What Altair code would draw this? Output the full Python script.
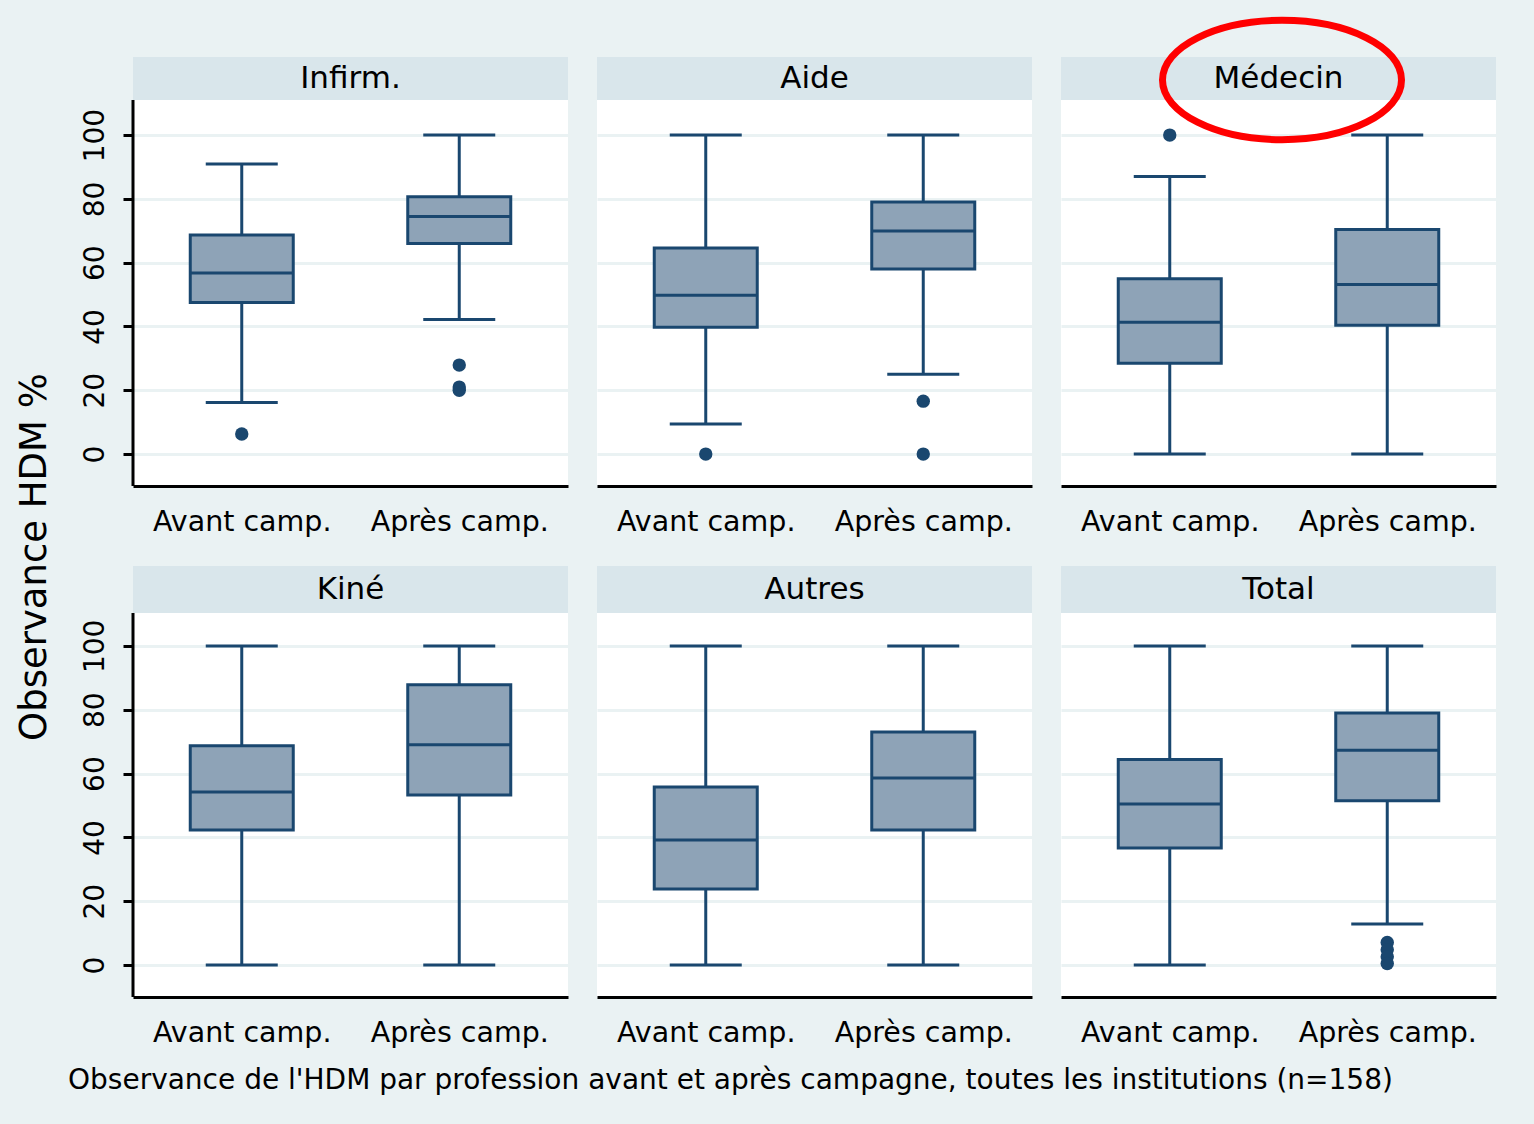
import altair as alt
import pandas as pd

groups = ["Infirm.", "Aide", "Médecin", "Kiné", "Autres", "Total"]
periods = ["Avant camp.", "Après camp."]
y_ticks = [0, 20, 40, 60, 80, 100]

# Box-plot summaries: one (avant, après) pair per group, in group order
whisker_low = [16.2, 42.2, 9.4, 25.0, 0.0, 0.0, 0.0, 0.0, 0.0, 0.0, 0.0, 12.9]
quartile_1 = [47.5, 66.0, 39.8, 58.0, 28.5, 40.4, 42.3, 53.3, 23.8, 42.3, 36.7, 51.5]
median = [56.8, 74.5, 49.8, 69.9, 41.3, 53.2, 54.2, 69.0, 39.2, 58.6, 50.5, 67.3]
quartile_3 = [68.7, 80.7, 64.6, 79.0, 55.0, 70.4, 68.7, 87.8, 55.8, 73.0, 64.4, 79.0]
whisker_high = [90.9, 100, 100, 100, 87.0, 100, 100, 100, 100, 100, 100, 100]

# Points beyond the whiskers
outlier_group = ["Infirm.", "Infirm.", "Infirm.", "Infirm.", "Aide", "Aide", "Aide",
                 "Médecin", "Total", "Total", "Total", "Total"]
outlier_period = ["Avant camp.", "Après camp.", "Après camp.", "Après camp.",
                  "Avant camp.", "Après camp.", "Après camp.", "Avant camp.",
                  "Après camp.", "Après camp.", "Après camp.", "Après camp."]
outlier_value = [6.3, 27.9, 21.0, 20.0, 0.0, 16.6, 0.0, 100.0, 7.1, 4.8, 2.6, 0.5]

caption = ("Observance de l'HDM par profession avant et après campagne, "
           "toutes les institutions (n=158)")
y_title = "Observance HDM %"

FONT = "DejaVu Sans"
BG = "#EAF2F3"
STRIP = "#D9E6EB"
NAVY = "#1A476F"
BOX = "#8EA3B7"
GRID = "#EAF2F3"

rows = []
for i, g in enumerate(groups):
    for j, p in enumerate(periods):
        k = 2 * i + j
        rows.append(dict(group=g, period=p, lo=whisker_low[k], q1=quartile_1[k],
                         med=median[k], q3=quartile_3[k], hi=whisker_high[k]))
box_df = pd.DataFrame(rows)
out_df = pd.DataFrame(dict(group=outlier_group, period=outlier_period, value=outlier_value))

PANEL_W = 435
PX_PER_UNIT = 3.19
# per row: bottom of y range, top of plotting area, header-strip and plot heights (px)
ROWS = [
    dict(ymin=-10.0, yplot=111.0, strip=43, plot=386),
    dict(ymin=-10.0, yplot=110.3, strip=47, plot=384),
]

# ellipse drawn around the "Médecin" header
ELLIPSE = ("M -1 0 C -1 -0.276 -0.552 -0.5 0 -0.5 "
           "C 0.552 -0.5 1 -0.276 1 0 C 1 0.276 0.552 0.5 0 0.5 "
           "C -0.552 0.5 -1 0.276 -1 0 Z")


def panel(g, col, r):
    geo = ROWS[r]
    ytop = geo["yplot"] + geo["strip"] / PX_PER_UNIT
    bd = box_df[box_df.group == g]
    od = out_df[out_df.group == g]

    x = alt.X("period:N",
              scale=alt.Scale(type="point", domain=periods, padding=0.5),
              axis=alt.Axis(title=None, labelAngle=0, labelFont=FONT, labelFontSize=28.5,
                            labelColor="black", labelPadding=21, ticks=False, tickSize=0,
                            grid=False, domain=True, domainColor="black", domainWidth=3))
    ysc = alt.Scale(domain=[geo["ymin"], ytop], nice=False, zero=False)
    if col == 0:
        yax = alt.Axis(title=None, values=y_ticks, labelAngle=270, labelAlign="center",
                       labelBaseline="bottom", labelFont=FONT, labelFontSize=28,
                       labelColor="black", labelPadding=14, tickSize=10, tickWidth=3,
                       tickColor="black", domain=False,
                       grid=True, gridColor=GRID, gridWidth=3)
    else:
        yax = alt.Axis(title=None, values=y_ticks, labels=False, ticks=False,
                       domain=False, grid=True, gridColor=GRID, gridWidth=3)

    def Y(field):
        return alt.Y(field, scale=ysc, axis=yax)

    one = alt.Chart(pd.DataFrame({"label": [g]}))
    header = one.mark_rect(fill=STRIP, opacity=1).encode(
        x=alt.value(0), x2=alt.value(PANEL_W),
        y=alt.Y(datum=geo["yplot"], scale=ysc, axis=yax), y2=alt.datum(ytop))
    header_text = one.mark_text(font=FONT, fontSize=31, color="black").encode(
        text="label:N", x=alt.value(PANEL_W / 2),
        y=alt.Y(datum=(geo["yplot"] + ytop) / 2, scale=ysc, axis=yax))

    base = alt.Chart(bd)
    whisk = base.mark_rule(color=NAVY, strokeWidth=3).encode(x=x, y=Y("lo:Q"), y2="hi:Q")
    cap_lo = base.mark_tick(color=NAVY, size=72, thickness=3, opacity=1,
                            orient="horizontal").encode(x=x, y=Y("lo:Q"))
    cap_hi = base.mark_tick(color=NAVY, size=72, thickness=3, opacity=1,
                            orient="horizontal").encode(x=x, y=Y("hi:Q"))
    box = base.mark_bar(size=103, fill=BOX, stroke=NAVY, strokeWidth=3,
                        opacity=1).encode(x=x, y=Y("q1:Q"), y2="q3:Q")
    med = base.mark_tick(color=NAVY, size=103, thickness=3, opacity=1,
                         orient="horizontal").encode(x=x, y=Y("med:Q"))
    layers = [header, header_text, whisk, cap_lo, cap_hi, box, med]
    if len(od):
        pts = alt.Chart(od).mark_circle(color=NAVY, size=180, opacity=1).encode(
            x=x, y=Y("value:Q"))
        layers.append(pts)
    if col == 0:
        left_line = one.mark_rule(color="black", strokeWidth=3).encode(
            x=alt.value(0), y=alt.Y(datum=geo["ymin"], scale=ysc, axis=yax),
            y2=alt.datum(geo["yplot"]))
        layers.append(left_line)
    if g == "Médecin":
        ring = one.mark_point(
            shape=ELLIPSE, size=57121, filled=False, stroke="#FF0000",
            strokeWidth=7, opacity=1).encode(x=alt.value(221), y=alt.value(23))
        layers.append(ring)

    return alt.layer(*layers).properties(
        width=PANEL_W, height=geo["strip"] + geo["plot"],
        view=alt.ViewBackground(fill="white", strokeWidth=0))


row1 = alt.hconcat(*[panel(g, c, 0) for c, g in enumerate(groups[:3])],
                   spacing=29, bounds="flush")
row2 = alt.hconcat(*[panel(g, c, 1) for c, g in enumerate(groups[3:])],
                   spacing=29, bounds="flush")
grid = alt.vconcat(row1, row2, spacing=30)

title_col = alt.Chart(pd.DataFrame({"t": [y_title]})).mark_text(
    font=FONT, fontSize=37, color="black", angle=270, baseline="middle").encode(
    text="t:N", x=alt.value(35), y=alt.value(500)).properties(
    width=70, height=900, view=alt.ViewBackground(fill=BG, strokeWidth=0))

note = alt.Chart(pd.DataFrame({"t": [caption]})).mark_text(
    font=FONT, fontSize=28, color="black", align="left", baseline="middle").encode(
    text="t:N", x=alt.value(68), y=alt.value(20)).properties(
    width=1400, height=40, view=alt.ViewBackground(fill=BG, strokeWidth=0))

chart = alt.vconcat(
    alt.hconcat(title_col, grid, spacing=11),
    note, spacing=14,
).properties(
    background=BG,
    padding={"left": 0, "top": 6, "right": 38, "bottom": 40},
).configure_view(strokeWidth=0)

chart.save("out.html", embed_options={"renderer": "svg", "actions": False})
